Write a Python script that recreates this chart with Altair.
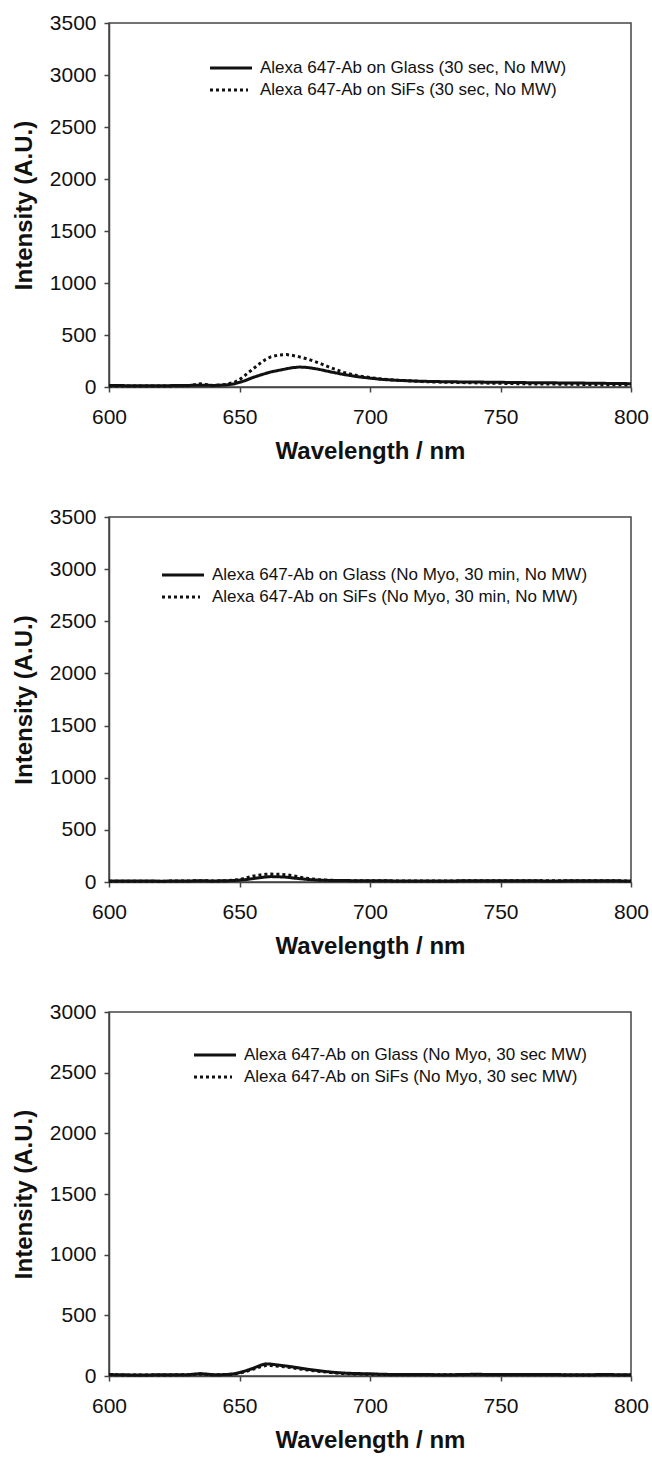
import altair as alt
import pandas as pd

FONT = "Liberation Sans"

wl = [600, 610, 620, 630, 635, 640, 645, 648, 650, 652, 655, 658, 660, 662, 665,
      668, 670, 673, 676, 680, 685, 690, 695, 700, 705, 710, 720, 730, 740, 750,
      760, 770, 780, 790, 800]

# Panel 1
labels1 = ["Alexa 647-Ab on Glass (30 sec, No MW)", "Alexa 647-Ab on SiFs (30 sec, No MW)"]
glass1 = [15, 12, 12, 15, 18, 15, 20, 30, 45, 60, 90, 115, 130, 145, 160,
          175, 185, 192, 188, 172, 145, 120, 100, 85, 72, 65, 55, 50, 48, 45,
          42, 40, 38, 35, 32]
sifs1 = [10, 10, 10, 12, 30, 15, 25, 45, 70, 110, 170, 230, 265, 290, 308,
         312, 305, 290, 270, 235, 185, 140, 110, 90, 75, 65, 52, 45, 40, 35,
         30, 28, 25, 22, 20]

# Panel 2
labels2 = ["Alexa 647-Ab on Glass (No Myo, 30 min, No MW)", "Alexa 647-Ab on SiFs (No Myo, 30 min, No MW)"]
glass2 = [10, 10, 8, 10, 12, 10, 12, 15, 18, 22, 32, 42, 48, 52, 50,
          46, 40, 32, 25, 18, 15, 14, 12, 12, 12, 10, 10, 10, 12, 12,
          12, 10, 12, 12, 10]
sifs2 = [8, 8, 8, 10, 12, 10, 12, 18, 25, 35, 55, 68, 74, 76, 74,
         70, 62, 48, 35, 22, 16, 14, 12, 12, 12, 10, 10, 10, 12, 12,
         12, 12, 12, 12, 10]

# Panel 3
labels3 = ["Alexa 647-Ab on Glass (No Myo, 30 sec MW)", "Alexa 647-Ab on SiFs (No Myo, 30 sec MW)"]
glass3 = [12, 8, 10, 10, 20, 10, 12, 18, 28, 40, 62, 88, 100, 98, 90,
          82, 76, 66, 56, 45, 32, 24, 20, 18, 14, 12, 12, 10, 14, 12,
          12, 12, 10, 12, 10]
sifs3 = [10, 8, 8, 10, 16, 10, 12, 16, 24, 34, 55, 76, 86, 86, 80,
         74, 68, 58, 50, 40, 28, 20, 16, 15, 12, 10, 10, 10, 12, 10,
         10, 10, 8, 10, 8]

x_ticks = [600, 650, 700, 750, 800]
DOT = [3, 3]


def panel(glass, sifs, labels, ymax, height, lx, ly):
    n = len(wl)
    df = pd.DataFrame({
        "wl": wl + wl,
        "val": glass + sifs,
        "series": [labels[0]] * n + [labels[1]] * n,
    })
    lines = alt.Chart(df).mark_line(color="#111111", strokeWidth=3).encode(
        x=alt.X("wl:Q", scale=alt.Scale(domain=[600, 800], nice=False, zero=False),
                axis=alt.Axis(values=x_ticks, title="Wavelength / nm", format="d",
                              labelPadding=14, titlePadding=12)),
        y=alt.Y("val:Q", scale=alt.Scale(domain=[0, ymax], nice=False),
                axis=alt.Axis(values=list(range(0, ymax + 1, 500)), format="d",
                              title="Intensity (A.U.)", labelPadding=8,
                              titlePadding=13)),
        strokeDash=alt.StrokeDash("series:N",
                                  scale=alt.Scale(domain=labels, range=[[1, 0], DOT]),
                                  legend=None),
    )
    layers = [lines]
    for i, lab in enumerate(labels):
        ldf = pd.DataFrame({"series": [lab]})
        dash = [1, 0] if i == 0 else DOT
        length = 42 if i == 0 else 38
        yy = ly + 22 * i
        rule = alt.Chart(ldf).mark_rule(color="#111111", strokeWidth=3, strokeDash=dash).encode(
            x=alt.value(lx), x2=alt.value(lx + length), y=alt.value(yy))
        txt = alt.Chart(ldf).mark_text(align="left", baseline="middle", fontSize=17,
                                       font=FONT, color="#111111").encode(
            x=alt.value(lx + 50), y=alt.value(yy), text="series:N")
        layers += [rule, txt]
    return alt.layer(*layers).properties(width=522, height=height)


p1 = panel(glass1, sifs1, labels1, 3500, 364, 101, 45)
p2 = panel(glass2, sifs2, labels2, 3500, 365, 53, 58)
p3 = panel(glass3, sifs3, labels3, 3000, 364, 85, 43)

chart = alt.vconcat(p1, p2, p3, spacing=130, bounds="flush").properties(
    padding={"left": 11, "top": 11, "right": 0, "bottom": 0},
    background="white",
).configure_view(
    stroke="#444444", strokeWidth=1.5
).configure_axis(
    grid=False, domainColor="#444444", domainWidth=1.5, tickColor="#444444",
    tickWidth=1.5, tickSize=5, labelFont=FONT, labelFontSize=21,
    labelColor="#111111", titleFont=FONT, titleFontSize=24,
    titleFontWeight="bold", titleColor="#111111", labelFlush=False,
    labelOverlap=False,
)

chart.save("out.html", embed_options={"renderer": "svg", "actions": False})
